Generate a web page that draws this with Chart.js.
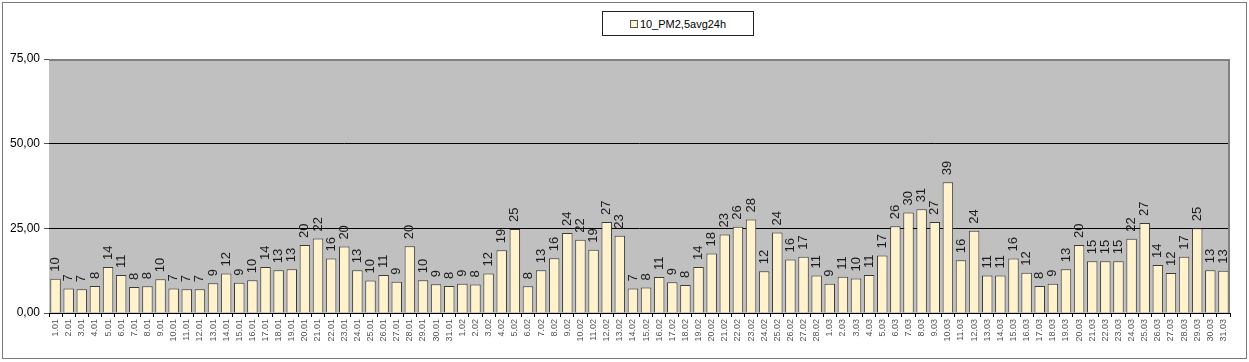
<!DOCTYPE html>
<html>
<head>
<meta charset="utf-8">
<script src="https://cdn.jsdelivr.net/npm/chart.js@4.4.1/dist/chart.umd.min.js"></script>
<style>
  html, body { margin: 0; padding: 0; background: #fff; }
  #wrap { position: relative; width: 1249px; height: 362px; overflow: hidden; }
  #wrap canvas { position: absolute; left: 0; top: 0; }
  #frame { position: absolute; left: 2px; top: 2px; width: 1243px; height: 355px; border: 1px solid #7a7a7a; pointer-events: none; }
  #legend { position: absolute; left: 602px; top: 11px; width: 150px; height: 23px; border: 1px solid #222;
            font: 11px "Liberation Sans", Arial, sans-serif; color: #000; display: flex; align-items: center; justify-content: center; background: #fff; }
  #legend i { display: inline-block; width: 6px; height: 6px; border: 1px solid #555; background: #fff2cc; margin-right: 2px; }
</style>
</head>
<body>
<div id="wrap">
  <canvas id="pmChart" width="1249" height="362"></canvas>
  <div id="frame"></div>
  <div id="legend"><i></i>10_PM2,5avg24h</div>
</div>
<script>
/* ── data: daily PM2.5 averages, 1.01 – 31.03 ── */
const SERIES_NAME = '10_PM2,5avg24h';

const days = [
  '1.01','2.01','3.01','4.01','5.01','6.01','7.01','8.01','9.01','10.01',
  '11.01','12.01','13.01','14.01','15.01','16.01','17.01','18.01','19.01','20.01',
  '21.01','22.01','23.01','24.01','25.01','26.01','27.01','28.01','29.01','30.01','31.01',
  '1.02','2.02','3.02','4.02','5.02','6.02','7.02','8.02','9.02','10.02',
  '11.02','12.02','13.02','14.02','15.02','16.02','17.02','18.02','19.02','20.02',
  '21.02','22.02','23.02','24.02','25.02','26.02','27.02','28.02',
  '1.03','2.03','3.03','4.03','5.03','6.03','7.03','8.03','9.03','10.03',
  '11.03','12.03','13.03','14.03','15.03','16.03','17.03','18.03','19.03','20.03',
  '21.03','22.03','23.03','24.03','25.03','26.03','27.03','28.03','29.03','30.03','31.03'
];

const janValues = [10.1, 7.2, 7.0, 8.0, 13.6, 11.2, 7.7, 7.9, 10.0, 7.2,
                   7.0, 7.0, 8.8, 11.7, 8.9, 9.7, 13.6, 12.6, 12.9, 20.1,
                   22.0, 16.1, 19.6, 12.6, 9.6, 11.2, 9.2, 19.7, 9.7, 8.5, 8.0];
const febValues = [8.6, 8.4, 11.7, 18.5, 24.8, 7.9, 12.6, 16.2, 23.6, 21.6,
                   18.7, 26.9, 22.8, 7.2, 7.5, 10.6, 9.1, 8.3, 13.6, 17.6,
                   23.2, 25.5, 27.6, 12.3, 23.8, 15.8, 16.6, 11.1];
const marValues = [8.6, 10.7, 10.2, 11.2, 17.0, 25.6, 29.7, 30.6, 26.9, 38.6,
                   15.6, 24.3, 11.1, 11.1, 16.1, 11.9, 8.0, 8.6, 12.9, 20.1,
                   15.3, 15.3, 15.3, 21.9, 26.6, 14.2, 11.8, 16.6, 25.0, 12.6, 12.5];

const pmValues = [...janValues, ...febValues, ...marValues];

const yTicks = [0, 25, 50, 75];

/* ── plot background + border ── */
const plotArea = {
  id: 'plotArea',
  beforeDraw(chart) {
    const { ctx, chartArea: a } = chart;
    ctx.save();
    ctx.fillStyle = '#c0c0c0';
    ctx.fillRect(a.left, a.top, a.right - a.left, a.bottom - a.top);
    ctx.restore();
  },
  afterDraw(chart) {
    const { ctx, chartArea: a } = chart;
    ctx.save();
    ctx.strokeStyle = '#808080';
    ctx.lineWidth = 2;
    ctx.beginPath();
    ctx.moveTo(a.left, a.top + 1);
    ctx.lineTo(a.right - 1, a.top + 1);
    ctx.lineTo(a.right - 1, a.bottom);
    ctx.stroke();
    ctx.restore();
  }
};

/* ── value labels above bars, rotated ── */
const barLabels = {
  id: 'barLabels',
  afterDatasetsDraw(chart) {
    const { ctx } = chart;
    const meta = chart.getDatasetMeta(0);
    ctx.save();
    ctx.font = '13px "Liberation Sans", Arial, sans-serif';
    ctx.fillStyle = '#1a1a1a';
    ctx.textAlign = 'left';
    ctx.textBaseline = 'middle';
    meta.data.forEach((bar, i) => {
      ctx.save();
      ctx.translate(bar.x, bar.y - 7);
      ctx.rotate(-Math.PI / 2);
      ctx.fillText(String(Math.round(pmValues[i])), 0, 0);
      ctx.restore();
    });
    ctx.restore();
  }
};

new Chart(document.getElementById('pmChart'), {
  type: 'bar',
  data: {
    labels: days,
    datasets: [{
      label: SERIES_NAME,
      data: pmValues,
      backgroundColor: '#fff2cc',
      borderColor: '#3a3a3a',
      borderWidth: 1,
      categoryPercentage: 1,
      barPercentage: 0.8
    }]
  },
  options: {
    responsive: false,
    animation: false,
    layout: { padding: { left: 0, right: 19, top: 59, bottom: 0 } },
    plugins: { legend: { display: false }, tooltip: { enabled: false } },
    scales: {
      x: {
        afterFit: s => { s.height = 49; },
        border: { color: '#000', width: 1 },
        grid: { drawOnChartArea: false, color: '#000', tickLength: 4, offset: true },
        ticks: { autoSkip: false, maxRotation: 90, minRotation: 90, padding: 2,
                 color: '#555', font: { family: '"Liberation Sans", Arial, sans-serif', size: 9 } }
      },
      y: {
        min: 0, max: 75,
        afterFit: s => { s.width = 49; },
        afterBuildTicks: s => { s.ticks = yTicks.map(v => ({ value: v })); },
        border: { display: false },
        grid: { color: '#000', lineWidth: 1, tickLength: 5, tickColor: '#555' },
        ticks: { padding: 4, color: '#000', font: { family: '"Liberation Sans", Arial, sans-serif', size: 12 },
                 callback: v => v.toFixed(2).replace('.', ',') }
      }
    }
  },
  plugins: [plotArea, barLabels]
});
</script>
</body>
</html>
